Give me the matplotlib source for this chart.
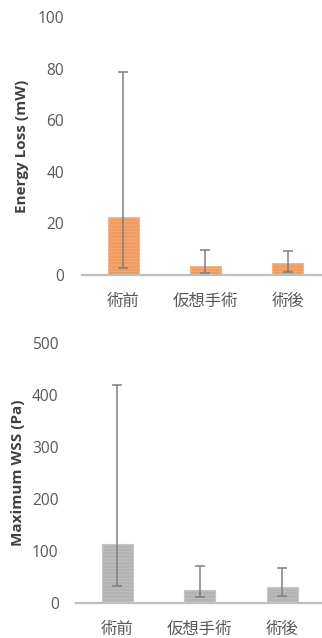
import matplotlib
matplotlib.use("Agg")
import matplotlib.pyplot as plt
import numpy as np

categories = ["術前", "仮想手術", "術後"]

energy_mean = [22.6, 3.5, 4.7]
energy_low = [2.6, 0.6, 1.3]
energy_high = [78.8, 9.8, 9.3]
energy_ticks = [0, 20, 40, 60, 80, 100]

wss_mean = [112.5, 24.5, 29.7]
wss_low = [32.8, 11.6, 12.9]
wss_high = [419.5, 70.7, 66.9]
wss_ticks = [0, 100, 200, 300, 400, 500]

W, H = 322, 638
fig = plt.figure(figsize=(W / 100, H / 100), dpi=100)
fig.patch.set_facecolor("white")

num_font = ["Open Sans", "DejaVu Sans"]
cjk_font = ["Noto Sans CJK JP", "DejaVu Sans"]


def panel(rect, means, lows, highs, ticks, ylabel, face, edge, label_x, tick_pad):
    ax = fig.add_axes(rect)
    x = np.arange(len(categories))
    means = np.asarray(means)
    yerr = [means - np.asarray(lows), np.asarray(highs) - means]
    ax.bar(x, means, width=0.38, color=face, edgecolor=edge, linewidth=0.8,
           hatch="-----", zorder=2)
    ax.errorbar(x, means, yerr=yerr, fmt="none", ecolor="#7f7f7f",
                elinewidth=1.1, capsize=3.5, capthick=1.1, zorder=3)
    ax.set_xlim(-0.5, len(categories) - 0.5)
    ax.set_ylim(ticks[0], ticks[-1])
    ax.set_yticks(ticks)
    ax.set_yticklabels([str(t) for t in ticks], family=num_font,
                       fontsize=11.2, color="#595959")
    ax.set_xticks(x)
    ax.set_xticklabels(categories, family=cjk_font, fontsize=11.8,
                       color="#595959")
    ax.tick_params(axis="y", length=0, pad=tick_pad)
    ax.tick_params(axis="x", length=0, pad=13)
    for s in ["top", "right", "left"]:
        ax.spines[s].set_visible(False)
    ax.spines["bottom"].set_color("#bfbfbf")
    ax.spines["bottom"].set_linewidth(1.6)
    ax.spines["bottom"].set_zorder(4)
    ax.set_facecolor("none")
    ax.set_ylabel(ylabel, family=num_font, fontweight="bold", fontsize=11,
                  color="#404040")
    ax.yaxis.set_label_coords(label_x, 0.5)
    return ax


plt.rcParams["hatch.linewidth"] = 0.4

panel([82 / W, 1 - 275 / H, 247 / W, (275 - 17) / H],
      energy_mean, energy_low, energy_high, energy_ticks,
      "Energy Loss (mW)", "#f19b60", "#f6b58a", -0.215, 13)

panel([76 / W, 1 - 602.7 / H, 247.5 / W, (602.7 - 343.3) / H],
      wss_mean, wss_low, wss_high, wss_ticks,
      "Maximum WSS (Pa)", "#b3b3b3", "#c6c6c6", -0.206, 12.5)

fig.savefig("out.png", dpi=100)
